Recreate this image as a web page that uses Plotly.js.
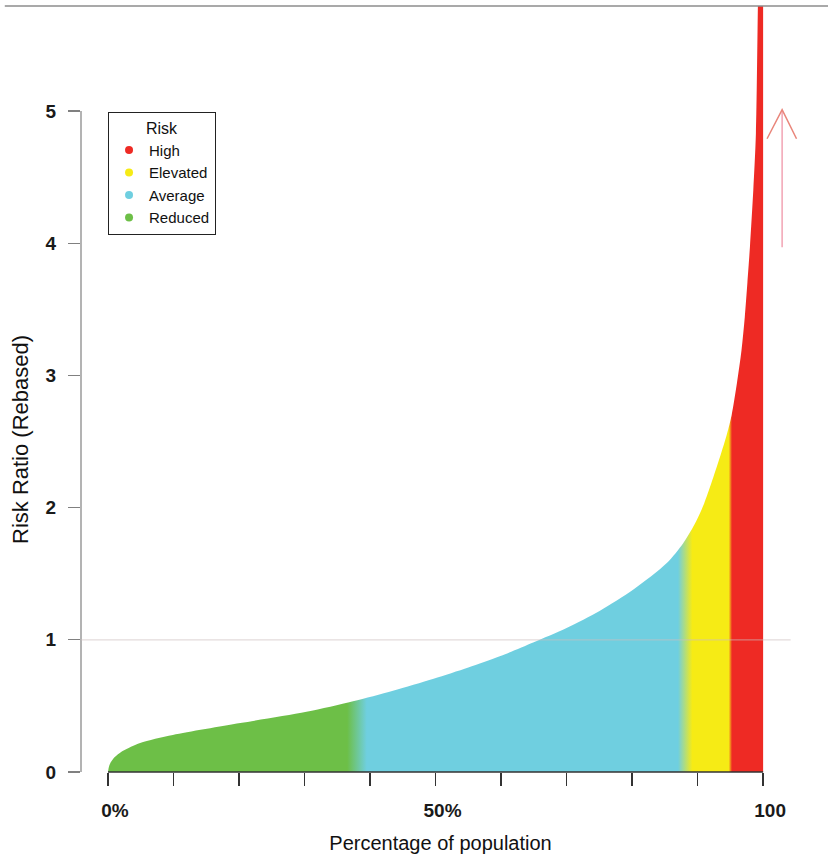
<!DOCTYPE html>
<html>
<head>
<meta charset="utf-8">
<script src="https://cdn.plot.ly/plotly-3.0.1.min.js"></script>
<style>
  html, body { margin: 0; padding: 0; background: #ffffff; }
  #chart { width: 828px; height: 858px; }
</style>
</head>
<body>
<div id="chart"></div>
<script>
// Population sorted by risk ratio: percentage of population vs rebased risk ratio
const pct   = [0, 0.2, 0.8, 2.3, 4.9, 9.9, 20.2, 30.3, 37.4, 43.5, 49.7, 55.0, 59.8, 64.9, 70.0,
               75.1, 80.2, 85.3, 87.8, 89.5, 91.0, 93.4, 94.5, 95.2, 96.0, 96.7, 97.2, 97.6,
               98.0, 98.5, 98.9, 99.2, 99.6, 100];
const ratio = [0, 0.05, 0.10, 0.16, 0.22, 0.28, 0.37, 0.455, 0.535, 0.615, 0.705, 0.79, 0.875, 0.98, 1.09,
               1.22, 1.38, 1.58, 1.73, 1.87, 2.03, 2.38, 2.56, 2.70, 2.94, 3.19, 3.44, 3.70,
               3.98, 4.40, 4.83, 5.79, 7.0, 8.5];

// Risk groups (legend order) and the population share where each colour band begins
const riskNames  = ['High', 'Elevated', 'Average', 'Reduced'];
const riskColors = ['#ee2a24', '#f6eb15', '#6fcfe0', '#6dbf47'];
const bandFrom   = [95.0, 88.1, 38.0, 0];

// x tick marks every 10%, labelled at 0, 50 and 100
const xTickVals = [0, 10, 20, 30, 40, 50, 60, 70, 80, 90, 100];
const xTickText = ['0%', '', '', '', '', '50%', '', '', '', '', '100'];
const yTickVals = [0, 1, 2, 3, 4, 5];

const FONT = 'Liberation Sans, Arial, Helvetica, sans-serif';
const X_RANGE = [-4.12, 105.63];
const Y_RANGE = [0, 5.794];

// horizontal gradient: solid bands with short blends at each boundary
const blend = { 'Average': 1.5, 'Elevated': 1.1, 'High': 0.25 };
const order = [3, 2, 1, 0];            // Reduced -> High along x
const stops = [];
order.forEach((idx, k) => {
  const name = riskNames[idx];
  const col = riskColors[idx];
  const from = bandFrom[idx];
  const b = blend[name] || 0;
  stops.push([Math.max(0, (from + b) / 100), col]);
  const nextIdx = order[k + 1];
  if (nextIdx !== undefined) {
    const nb = blend[riskNames[nextIdx]];
    stops.push([(bandFrom[nextIdx] - nb) / 100, col]);
  } else {
    stops.push([1, col]);
  }
});
stops[0][0] = 0;

const traces = [{
  type: 'scatter',
  x: pct,
  y: ratio,
  mode: 'lines',
  line: { width: 0, shape: 'spline', smoothing: 0.8 },
  fill: 'tozeroy',
  fillgradient: { type: 'horizontal', start: 0, stop: 100, colorscale: stops },
  showlegend: false,
  hoverinfo: 'skip'
}];

riskNames.forEach((name, i) => {
  traces.push({
    type: 'scatter',
    x: [null], y: [null],
    mode: 'markers',
    name: name,
    marker: { color: riskColors[i], size: 8 },
    hoverinfo: 'skip'
  });
});

// helpers converting axis values to paper fractions (for axis lines drawn as shapes)
const px = v => (v - X_RANGE[0]) / (X_RANGE[1] - X_RANGE[0]);
const py = v => (v - Y_RANGE[0]) / (Y_RANGE[1] - Y_RANGE[0]);

const layout = {
  width: 828,
  height: 858,
  margin: { l: 81, r: 28, t: 6, b: 86 },
  paper_bgcolor: '#ffffff',
  plot_bgcolor: '#ffffff',
  font: { family: FONT, color: '#1a1a1a' },
  showlegend: true,
  legend: {
    x: 0.0376, y: 0.8616, xanchor: 'left', yanchor: 'top',
    bgcolor: '#ffffff', bordercolor: '#222222', borderwidth: 1,
    font: { family: FONT, size: 15, color: '#111111' },
    title: { text: 'Risk', side: 'top center', font: { family: FONT, size: 16, color: '#111111' } },
    traceorder: 'normal'
  },
  xaxis: {
    range: X_RANGE,
    showgrid: false, zeroline: false, showline: false,
    tickmode: 'array', tickvals: xTickVals, ticktext: xTickText,
    ticks: 'outside', ticklen: 13, tickwidth: 1.4, tickcolor: '#333333',
    tickfont: { family: FONT, size: 19, color: '#1a1a1a', weight: 'bold' },
    ticklabelstandoff: 8,
    ticklabelshift: 7,
    title: { text: 'Percentage of population', font: { family: FONT, size: 20, color: '#111111' }, standoff: 16 },
    fixedrange: true
  },
  yaxis: {
    range: Y_RANGE,
    showgrid: false, zeroline: false, showline: false,
    tickmode: 'array', tickvals: yTickVals,
    ticks: 'outside', ticklen: 12, tickwidth: 1.2, tickcolor: '#808080',
    tickfont: { family: FONT, size: 19, color: '#1a1a1a', weight: 'bold' },
    ticklabelstandoff: 8,
    fixedrange: true
  },
  annotations: [{
    text: 'Risk Ratio (Rebased)',
    textangle: -90,
    xref: 'paper', yref: 'paper',
    x: (20 - 81) / 719, y: (772 - 440) / 766,
    xanchor: 'center', yanchor: 'middle',
    showarrow: false,
    font: { family: FONT, size: 22, color: '#111111' }
  }],
  shapes: [
    // frame line across the top
    { type: 'line', xref: 'paper', yref: 'paper', x0: -0.106, x1: 1.04, y0: 1, y1: 1,
      line: { color: '#8c8c8c', width: 1.5 } },
    // x axis line spanning 0-100%
    { type: 'line', xref: 'paper', yref: 'paper', x0: px(0), x1: px(100), y0: 0, y1: 0,
      line: { color: '#333333', width: 1.5 } },
    // y axis line spanning 0-5
    { type: 'line', xref: 'paper', yref: 'paper', x0: 0, x1: 0, y0: py(0), y1: py(5),
      line: { color: '#808080', width: 1.2 } },
    // reference level at ratio 1
    { type: 'line', xref: 'paper', yref: 'y', x0: 0, x1: px(104.2), y0: 1, y1: 1,
      layer: 'above', line: { color: 'rgba(205,190,190,0.55)', width: 1.2 } },
    // upward arrow beside the spike
    { type: 'line', xref: 'x', yref: 'y', x0: 102.9, x1: 102.9, y0: 3.97, y1: 5.0,
      line: { color: '#f2a3b3', width: 1.5 } },
    { type: 'path', xref: 'x', yref: 'y', path: 'M 100.6 4.79 L 102.9 5.01 L 105.1 4.79',
      line: { color: '#e9857a', width: 1.5 } }
  ]
};

Plotly.newPlot('chart', traces, layout, { displayModeBar: false, staticPlot: true });
</script>
</body>
</html>
